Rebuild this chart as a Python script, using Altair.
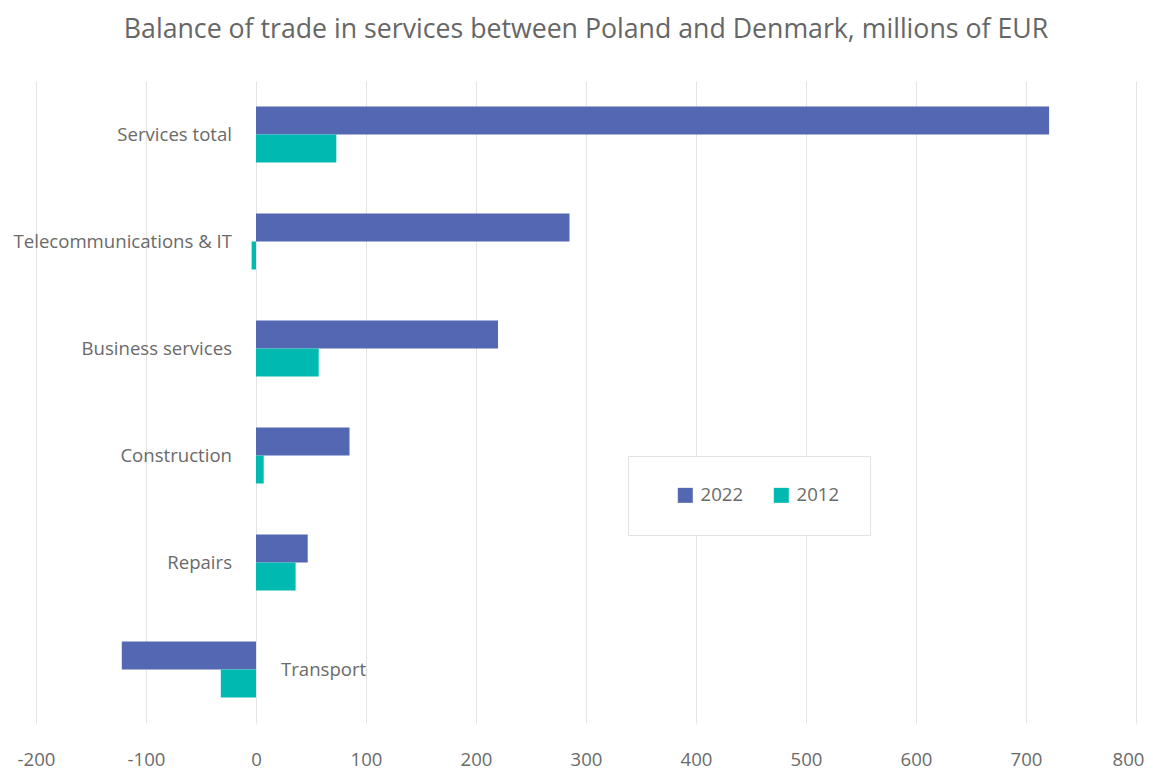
import altair as alt
import pandas as pd

categories = ["Services total", "Telecommunications & IT", "Business services",
              "Construction", "Repairs", "Transport"]
values_2022 = [721, 285, 220, 85, 47, -122]
values_2012 = [73, -4, 57, 7, 36, -32]
years = ["2022", "2012"]
x_ticks = [-200, -100, 0, 100, 200, 300, 400, 500, 600, 700, 800]

rows = []
for c, v22, v12 in zip(categories, values_2022, values_2012):
    rows.append({"category": c, "year": "2022", "value": v22})
    rows.append({"category": c, "year": "2012", "value": v12})
df = pd.DataFrame(rows)

lab = pd.DataFrame({"category": categories, "v": values_2022})
lab["zero"] = 0

FONT = "Open Sans"
GRAY = "#6a6a6a"
FS = 18.6

y_scale = alt.Scale(domain=categories, paddingInner=0.477, paddingOuter=0.2385)

bars = alt.Chart(df).mark_bar().encode(
    x=alt.X("value:Q", stack=None,
            scale=alt.Scale(domain=[-200, 800], nice=False, zero=True),
            axis=alt.Axis(values=x_ticks, title=None, domain=False, ticks=False,
                          grid=True, gridColor="#e4e4e4", gridWidth=1,
                          labelFont=FONT, labelFontSize=FS, labelColor=GRAY,
                          labelPadding=27, labelExpr="'' + datum.value",
                          labelFlush=False, labelBound=False,
                          labelAlign={"condition": {"test": "datum.value == 800", "value": "right"},
                                      "value": "center"},
                          labelOffset={"condition": {"test": "datum.value == 800", "value": 8},
                                       "value": 0})),
    y=alt.Y("category:N", scale=y_scale, axis=None, sort=categories),
    yOffset=alt.YOffset("year:N", sort=years, scale=alt.Scale(domain=years)),
    color=alt.Color("year:N", sort=years,
                    scale=alt.Scale(domain=years, range=["#5467b2", "#00b9b0"]),
                    legend=alt.Legend(title=None, orient="none", legendX=592, legendY=375,
                                      direction="horizontal", symbolType="square",
                                      symbolSize=225, symbolStrokeWidth=0,
                                      labelFont=FONT, labelFontSize=FS, labelColor=GRAY,
                                      labelOffset=6, columnPadding=10, symbolOffset=18,
                                      padding=30, strokeColor="#e2e2e2",
                                      fillColor="white")),
)

left_labels = alt.Chart(lab).transform_filter("datum.v >= 0").mark_text(
    align="right", baseline="middle", dx=-24, font=FONT, fontSize=FS, color=GRAY
).encode(
    x=alt.X("zero:Q"),
    y=alt.Y("category:N", scale=y_scale, sort=categories),
    text="category:N",
)

right_labels = alt.Chart(lab).transform_filter("datum.v < 0").mark_text(
    align="left", baseline="middle", dx=25, font=FONT, fontSize=FS, color=GRAY
).encode(
    x=alt.X("zero:Q"),
    y=alt.Y("category:N", scale=y_scale, sort=categories),
    text="category:N",
)

chart = alt.layer(bars, left_labels, right_labels).properties(
    width=1100, height=642,
    title=alt.TitleParams(
        "Balance of trade in services between Poland and Denmark, millions of EUR",
        font=FONT, fontSize=26.7, fontWeight="normal", color="#666666",
        anchor="middle", baseline="alphabetic", offset=16),
    padding={"left": 28, "top": 73, "right": 9, "bottom": 46},
    autosize=alt.AutoSizeParams(type="none"),
).configure_view(stroke=None)

chart.save("out.html", embed_options={"renderer": "svg", "actions": False})
